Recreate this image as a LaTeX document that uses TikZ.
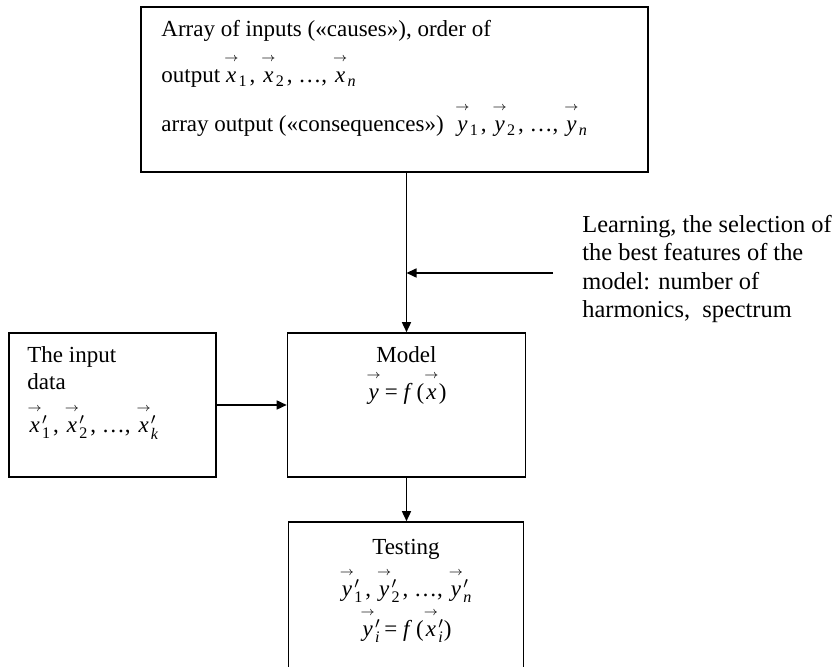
\documentclass[tikz,border=0pt]{standalone}
\usepackage{amsmath}
\usepackage{fontspec}
\setmainfont{Liberation Serif}
\usetikzlibrary{arrows.meta,positioning}
\newcommand{\av}[1]{\ensuremath{\smash{\overset{\raisebox{3pt}{$\scriptscriptstyle\rightarrow$}}{\mbox{\itshape #1}}}}}
\newcommand{\vx}[3][]{\ensuremath{{\av{#2}}#1_{\text{#3}}}}

\begin{document}
\begin{tikzpicture}[x=0.5pt,y=-0.5pt,
  box/.style={draw, line width=0.8pt, inner sep=0pt},
  txt/.style={inner sep=0pt, font=\fontsize{11.5}{14}\selectfont},
  link/.style={-{Triangle[length=5pt,width=4.5pt]}, line width=0.8pt}]
\clip (0,0) rectangle (837,667);

% boxes
\node[box, minimum width=253.5pt, minimum height=82.5pt] (causes) at (394.5,89.5) {};
\node[box, minimum width=103.5pt, minimum height=72pt] (input) at (112.5,405) {};
\node[box, minimum width=119pt, minimum height=72pt] (model) at (406.5,405) {};
\node[box, minimum width=117.5pt, minimum height=84pt] (test) at (406,606) {};

% texts
\node[txt, anchor=base west] (causes-a) at (161,37) {Array of inputs («causes»), order of};
\node[txt, anchor=base west] (causes-b) at (161,83) {output\,\vx{x}{1}\kern1pt, \vx{x}{2}\kern1pt, …, \vx{x}{\itshape n}};
\node[txt, anchor=base west] (causes-c) at (161,132) {array output («consequences»)\ \ \vx{y}{1}\kern1pt, \vx{y}{2}\kern1pt, …, \vx{y}{\itshape n}};
\node[txt, font=\fontsize{12.2}{14.2}\selectfont, align=left, anchor=north west] (learn) at (582,215) {Learning, the selection of\\the best features of the\\model: number of\\harmonics,\ \ spectrum};
\node[txt, anchor=base west] (input-a) at (27,363) {The input};
\node[txt, anchor=base west] (input-b) at (27,390) {data};
\node[txt, anchor=base west] (input-c) at (27,433) {\vx[']{x}{1}\kern1pt, \vx[']{x}{2}\kern1pt, …, \vx[']{x}{\itshape k}};
\node[txt, anchor=base] (model-a) at (406.5,363) {Model};
\node[txt, anchor=base] (model-b) at (406.5,400) {\av{y}\,= \textit{f}\,(\av{x})};
\node[txt, anchor=base] (test-a) at (406,555) {Testing};
\node[txt, anchor=base] (test-b) at (406,597) {\vx[']{y}{1}\kern1pt, \vx[']{y}{2}\kern1pt, …, \vx[']{y}{\itshape n}};
\node[txt, anchor=base] (test-c) at (406,637) {\vx[']{y}{\itshape i}\,= \textit{f}\,(\vx[']{x}{\itshape i})};

% connectors
\coordinate (learn-start) at (553,273);
\coordinate (learn-end) at (406.5,273);
\draw[link] (causes.south -| model.north) -- (model.north);
\draw[link] (learn-start) -- (learn-end);
\draw[link] (input.east) -- (model.west);
\draw[link] (model.south) -- (model.south |- test.north);
\end{tikzpicture}
\end{document}
